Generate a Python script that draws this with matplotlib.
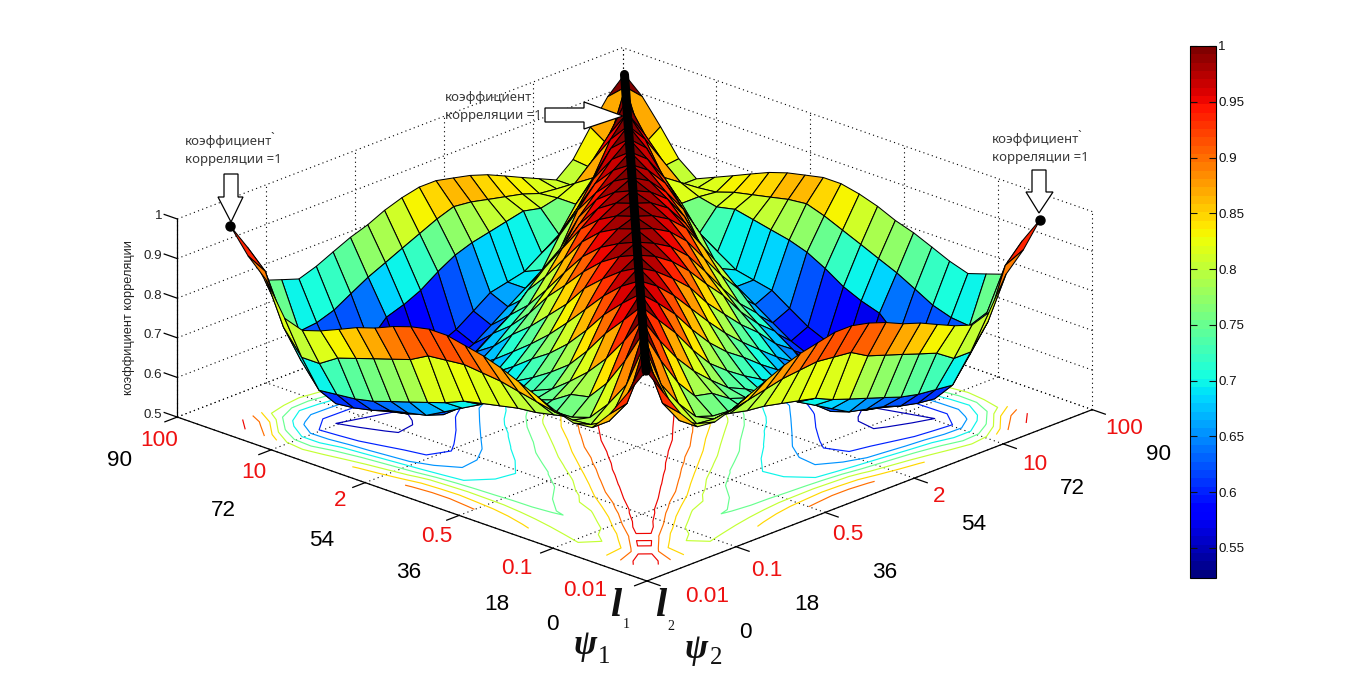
import numpy as np
import matplotlib
matplotlib.use("Agg")
import matplotlib.pyplot as plt
from matplotlib.colors import Normalize
from matplotlib.cm import ScalarMappable
from matplotlib.patches import Polygon
from mpl_toolkits.mplot3d import proj3d

plt.rcParams["font.family"] = ["Liberation Sans", "DejaVu Sans"]

W, H = 1367, 675

# grid of the surface, degrees
psi = [3.15, 6.6, 10.1, 13.5, 17.0, 20.5, 23.9, 27.4, 30.9, 34.3, 37.8, 41.3,
       44.7, 48.2, 51.6, 55.1, 58.6, 62.0, 65.5, 69.0, 72.4, 75.9, 79.4, 82.8]

# correlation, upper triangle (row i = psi1, from j = i)
corr_rows = [
    [1, .93, .86, .81, .805, .82, .84, .86, .88, .895, .905, .915, .915, .905, .89, .87, .855, .835, .815, .80, .815, .895, .94, 1],
    [1, .87, .81, .785, .78, .785, .795, .805, .815, .82, .825, .82, .815, .79, .775, .76, .745, .73, .70, .70, .76, .885, .93],
    [1, .885, .82, .77, .755, .745, .735, .73, .72, .71, .70, .68, .665, .65, .635, .62, .61, .605, .60, .66, .75, .83],
    [1, .913, .84, .79, .78, .75, .735, .715, .705, .675, .65, .625, .60, .59, .58, .565, .555, .55, .62, .70, .815],
    [1, .93, .87, .82, .78, .745, .725, .70, .685, .655, .62, .585, .57, .555, .545, .54, .555, .62, .705, .80],
    [1, .95, .90, .84, .79, .755, .725, .70, .675, .645, .61, .58, .56, .545, .545, .56, .62, .72, .815],
    [1, .96, .915, .86, .81, .77, .74, .705, .675, .645, .605, .58, .56, .55, .565, .64, .745, .835],
    [1, .97, .93, .88, .83, .785, .745, .71, .675, .645, .605, .57, .555, .57, .685, .77, .855],
    [1, .975, .94, .90, .845, .80, .757, .72, .675, .645, .585, .565, .58, .70, .79, .87],
    [1, .98, .95, .91, .86, .815, .757, .71, .675, .61, .58, .60, .72, .81, .89],
    [1, .98, .955, .915, .86, .80, .745, .705, .64, .60, .62, .75, .83, .905],
    [1, .985, .96, .92, .86, .80, .75, .67, .63, .65, .775, .85, .915],
    [1, .985, .96, .92, .855, .79, .70, .66, .68, .79, .865, .915],
    [1, .985, .955, .90, .82, .75, .69, .69, .80, .86, .905],
    [1, .98, .945, .885, .79, .72, .70, .81, .85, .895],
    [1, .975, .93, .87, .79, .73, .82, .84, .88],
    [1, .97, .92, .84, .76, .81, .83, .86],
    [1, .965, .90, .82, .82, .815, .84],
    [1, .96, .87, .84, .81, .82],
    [1, .95, .88, .80, .80],
    [1, .93, .83, .835],
    [1, .87, .90],
    [1, .96],
    [1],
]

contour_levels = [.55, .60, .65, .70, .75, .80, .85, .90, .95]
psi_ticks = [0, 18, 36, 54, 72, 90]
corr_ticks = [.5, .6, .7, .8, .9, 1.0]
corr_tick_labels = ["0.5", "0.6", "0.7", "0.8", "0.9", "1"]
psi_labels = ["0", "18", "36", "54", "72", "90"]
l_labels = ["0.01", "0.1", "0.5", "2", "10", "100"]
cbar_ticks = [.55, .60, .65, .70, .75, .80, .85, .90, .95, 1.0]
cbar_labels = ["0.55", "0.6", "0.65", "0.7", "0.75", "0.8", "0.85", "0.9", "0.95", "1"]
note_lines = ["коэффициент", "корреляции =1"]
z_title = "коэффициент корреляции"

# where the box corners sit in the picture, pixels
FRONT = (647, 581)
LEFT = (177, 417)
RIGHT = (1092, 410)

n = len(psi)
corr = np.zeros((n, n))
for i, row in enumerate(corr_rows):
    corr[i, i:] = row
    corr[i:, i] = row

cmap = plt.get_cmap("jet", 64)
norm = Normalize(.523, 1.0)


def fx(x):
    return x / W


def fy(y):
    return 1 - y / H


fig = plt.figure(figsize=(W / 100, H / 100), dpi=100, facecolor="white")

side = 1300
ax = fig.add_axes([(W - side) / 2 / W, (H - side) / 2 / H, side / W, side / H],
                  projection="3d", proj_type="ortho", computed_zorder=False)
ax.set_axis_off()
ax.set_xlim(0, 90, view_margin=0)
ax.set_ylim(0, 90, view_margin=0)
ax.set_zlim(.5, 1, view_margin=0)
ax.view_init(elev=21.5, azim=-136.4)
ASPECT = (646, 649, 213)


def corner_px(x, y, z):
    ax.apply_aspect()
    px, py, _ = proj3d.proj_transform(x, y, z, ax.get_proj())
    return ax.transData.transform((px, py))


# fit the box to the corners of the reference
ax.set_box_aspect(ASPECT, zoom=1)
a = corner_px(0, 90, .5)
b = corner_px(90, 0, .5)
ax.set_box_aspect(ASPECT, zoom=(RIGHT[0] - LEFT[0]) / (b[0] - a[0]))
f = corner_px(0, 0, .5)
dx = FRONT[0] - f[0]
dy = (H - FRONT[1]) - f[1]
pos = ax.get_position()
ax.set_position([pos.x0 + dx / W, pos.y0 + dy / H, pos.width, pos.height])

# dotted grid on the floor and the two back walls
dots = dict(color="black", lw=.8, ls=(0, (1, 3)), zorder=0)
for t in psi_ticks:
    ax.plot([t, t], [0, 90], [.5, .5], **dots)
    ax.plot([0, 90], [t, t], [.5, .5], **dots)
    ax.plot([t, t], [90, 90], [.5, 1], **dots)
    ax.plot([90, 90], [t, t], [.5, 1], **dots)
for t in corr_ticks:
    ax.plot([0, 90], [90, 90], [t, t], **dots)
    ax.plot([90, 90], [0, 90], [t, t], **dots)

# solid axes and ticks
solid = dict(color="black", lw=.9, zorder=0.5)
ax.plot([0, 0], [0, 90], [.5, .5], **solid)
ax.plot([0, 90], [0, 0], [.5, .5], **solid)
ax.plot([0, 0], [90, 90], [.5, 1], **solid)
for t in psi_ticks:
    ax.plot([-2.5, 0], [t, t], [.5, .5], **solid)
    ax.plot([t, t], [-2.5, 0], [.5, .5], **solid)
for t in corr_ticks:
    ax.plot([0, 0], [90, 92.5], [t, t], **solid)

X, Y = np.meshgrid(psi, psi)
ax.contour(X, Y, corr, levels=contour_levels, zdir="z", offset=.5,
           cmap=cmap, norm=norm, linewidths=.85, zorder=1)
ax.plot_surface(X, Y, corr, rstride=1, cstride=1, facecolors=cmap(norm(corr)),
                shade=False, edgecolor="black", linewidth=.75, antialiased=True,
                zorder=2)
ax.plot(psi, psi, corr.diagonal(), color="black", lw=6.5, solid_capstyle="round", zorder=3)
ax.plot([psi[-1]], [psi[0]], [corr[0, -1]], "o", color="black", ms=6.5, zorder=3)
ax.plot([psi[0]], [psi[-1]], [corr[-1, 0]], "o", color="black", ms=6.5, zorder=3)

# tick labels (two scales share the same ticks)
num = dict(ha="center", va="center", fontsize=16.2)
for lab, x, y in zip(l_labels, [585, 517, 437, 340, 254, 159], [590, 568, 537, 500, 472, 441]):
    fig.text(fx(x), fy(y), lab, color="#ee1111", **num)
for lab, x, y in zip(l_labels, [707, 767, 848, 939, 1035, 1124], [597, 570, 535, 497, 464, 429]):
    fig.text(fx(x), fy(y), lab, color="#ee1111", **num)
for lab, x, y in zip(psi_labels, [552, 497, 409, 322, 223, 120], [624, 604, 572, 540, 510, 461]):
    fig.text(fx(x), fy(y), lab, color="black", **num)
for lab, x, y in zip(psi_labels, [745, 807, 885, 974, 1072, 1159], [632, 604, 573, 525, 489, 454]):
    fig.text(fx(x), fy(y), lab, color="black", **num)

for lab, y in zip(corr_tick_labels, [415, 375, 335, 296, 256, 216]):
    fig.text(fx(162), fy(y), lab, ha="right", va="center", fontsize=9.6, color="#222222")
fig.text(fx(129), fy(318), z_title, rotation=90, ha="center", va="center",
         fontsize=9.2, color="#222222")

# axis names
serif = dict(family="Liberation Serif", style="italic", weight="bold", ha="center", va="center", color="#111111")
plain = dict(family="Liberation Serif", ha="center", va="center", color="#111111")
fig.text(fx(616), fy(606), "l", fontsize=29, **serif)
fig.text(fx(626), fy(625), "1", fontsize=10, **plain)
fig.text(fx(661), fy(607), "l", fontsize=29, **serif)
fig.text(fx(671), fy(627), "2", fontsize=10, **plain)
fig.text(fx(585), fy(645), "ψ", fontsize=25, **serif)
fig.text(fx(604), fy(657), "1", fontsize=18, **plain)
fig.text(fx(696), fy(650), "ψ", fontsize=25, **serif)
fig.text(fx(716), fy(658), "2", fontsize=18, **plain)

# callouts
note = dict(family="Noto Sans", fontsize=9.5, color="#3a3a3a", ha="left", va="center")
for x, y in [(185, 142), (445, 98), (992, 140)]:
    fig.text(fx(x), fy(y), note_lines[0], **note)
    fig.text(fx(x), fy(y + 18), note_lines[1], **note)
fig.text(fx(270), fy(138), "`", **note)
fig.text(fx(1077), fy(136), "`", **note)


def block_arrow(points):
    fig.add_artist(Polygon([(fx(x), fy(y)) for x, y in points], closed=True,
                           transform=fig.transFigure, facecolor="white",
                           edgecolor="black", linewidth=.9, zorder=5))


block_arrow([(224, 174), (238, 174), (238, 197), (243, 197), (231, 222), (218, 197), (224, 197)])
block_arrow([(1032, 170), (1046, 170), (1046, 192), (1053, 192), (1039, 213), (1026, 192), (1032, 192)])
block_arrow([(545, 108), (584, 108), (584, 102), (623, 116), (584, 129), (584, 122), (545, 122)])

# colorbar
cax = fig.add_axes([fx(1189.5), fy(578), 26 / W, 532 / H])
cb = fig.colorbar(ScalarMappable(norm=norm, cmap=cmap), cax=cax)
cb.set_ticks(cbar_ticks, labels=cbar_labels)
cb.ax.tick_params(axis="y", direction="in", length=5, width=.8, left=True, right=True,
                  labelsize=9.6, pad=2, colors="#111111")
cb.outline.set_linewidth(.8)

fig.savefig("out.png", dpi=100)
